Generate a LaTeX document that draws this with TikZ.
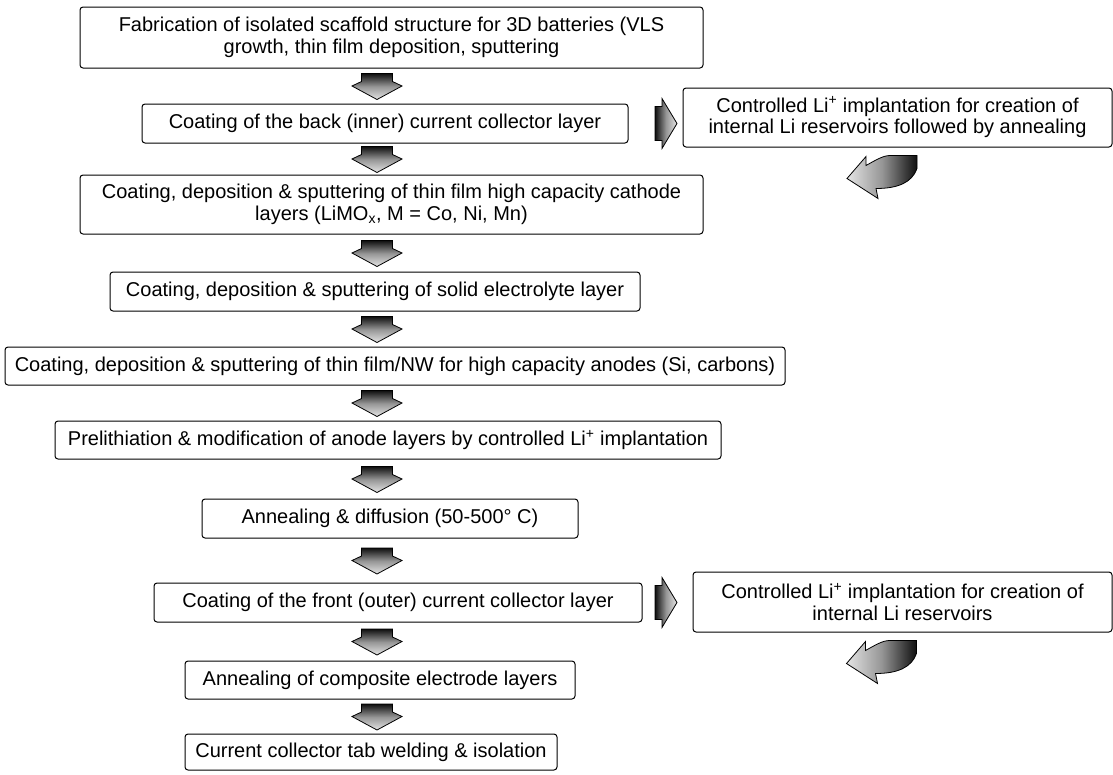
\documentclass[tikz,border=0pt]{standalone}
\usepackage{fontspec}
\setmainfont{Liberation Sans}
\usepackage{tikz}
\usetikzlibrary{calc}
\definecolor{flowdark}{RGB}{15,15,15}
\definecolor{flowmid}{RGB}{150,150,150}
\definecolor{flowlight}{RGB}{228,228,228}

\tikzset{
  stepbox/.style={draw=black, line width=1pt, rounded corners=3pt, inner sep=0pt,
    align=center, font=\fontsize{20}{21.5}\selectfont},
  blkline/.style={draw=black, line width=0.8pt},
  downblk/.pic={
    \path[blkline, top color=flowdark, bottom color=flowlight, middle color=flowmid]
      (-15.5,-12.5) -- (15.5,-12.5) -- (15.5,-4.5) -- (25,0) -- (0,13.5)
      -- (-25,0) -- (-15.5,-4.5) -- cycle;
  },
  rightblk/.pic={
    \path[blkline, left color=flowdark, right color=flowlight, middle color=flowmid]
      (-11,-17) -- (-4,-17) -- (-4,-25) -- (11,0) -- (-4,25) -- (-4,17)
      -- (-11,17) -- cycle;
  },
  turnblk/.pic={
    \path[blkline, left color=flowlight, right color=flowdark, middle color=flowmid]
      (-50.5,31) -- (-31.5,9) -- (-31.5,18) .. controls (-22.5,13) and (-14.5,8) .. (-7.5,8)
      -- (19.5,8) -- (19.5,21) .. controls (14.5,35) and (0.5,41) .. (-21.5,41)
      -- (-19.5,51) -- cycle;
  }
}

\begin{document}
\begin{tikzpicture}[x=1pt, y=-1pt]
\useasboundingbox (0,0) rectangle (1113,774);

% Main column of process steps
\node[stepbox, minimum width=623, minimum height=61] (fab) at (391.5,37.5)
  {Fabrication of isolated scaffold structure for 3D batteries (VLS\\growth, thin film deposition, sputtering};
\node[stepbox, minimum width=486, minimum height=39] (back) at (385,123.5)
  {Coating of the back (inner) current collector layer};
\node[stepbox, minimum width=623, minimum height=59] (cathode) at (391.5,204.5)
  {Coating, deposition \& sputtering of thin film high capacity cathode\\layers (LiMO\textsubscript{x}, M = Co, Ni, Mn)};
\node[stepbox, minimum width=530, minimum height=39] (electrolyte) at (375,291.5)
  {Coating, deposition \& sputtering of solid electrolyte layer};
\node[stepbox, minimum width=780, minimum height=38] (anode) at (395,366)
  {Coating, deposition \& sputtering of thin film/NW for high capacity anodes (Si, carbons)};
\node[stepbox, minimum width=666, minimum height=38] (prelith) at (388,440)
  {Prelithiation \& modification of anode layers by controlled Li\textsuperscript{+} implantation};
\node[stepbox, minimum width=376, minimum height=39] (anneal) at (390,518.5)
  {Annealing \& diffusion (50-500° C)};
\node[stepbox, minimum width=488, minimum height=39] (front) at (398,602.5)
  {Coating of the front (outer) current collector layer};
\node[stepbox, minimum width=390, minimum height=38] (composite) at (380,680)
  {Annealing of composite electrode layers};
\node[stepbox, minimum width=372, minimum height=36] (tab) at (371,752)
  {Current collector tab welding \& isolation};

% Side steps (Li reservoirs)
\node[stepbox, minimum width=429, minimum height=59] (implA) at (897.5,117.5)
  {Controlled Li\textsuperscript{+} implantation for creation of\\internal Li reservoirs followed by annealing};
\node[stepbox, minimum width=419, minimum height=60] (implB) at (902.5,602)
  {Controlled Li\textsuperscript{+} implantation for creation of\\internal Li reservoirs};

% Block arrows down the main column
\coordinate (col) at (377,0);
\foreach \a/\b in {fab/back, back/cathode, cathode/electrolyte, electrolyte/anode,
                   anode/prelith, prelith/anneal, anneal/front, front/composite, composite/tab} {
  \coordinate (mid) at ($(\a.south)!.5!(\b.north)$);
  \pic at (col |- mid) {downblk};
}

% Side arrows and return arrows
\coordinate (side) at (666,0);
\pic at (side |- back.east) {rightblk};
\pic at (side |- front.east) {rightblk};
\pic at (implA.south) {turnblk};
\pic at ([xshift=-5.5pt]implB.south) {turnblk};
\end{tikzpicture}
\end{document}
